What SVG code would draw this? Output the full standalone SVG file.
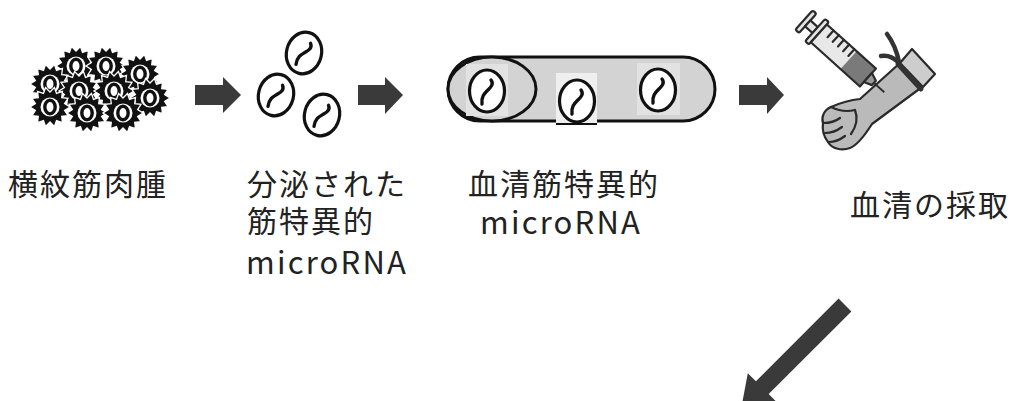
<svg xmlns="http://www.w3.org/2000/svg" xmlns:xlink="http://www.w3.org/1999/xlink" width="1011" height="401" viewBox="0 0 1011 401">
  <style>
    .lbl { font-family: "Noto Sans CJK JP", "Noto Sans", sans-serif; font-size: 30px; fill: #222; letter-spacing: 2px; }
    .lat { font-size: 31px; letter-spacing: 2.2px; }
    .ves { fill: #fff; stroke: #111; stroke-width: 3.2; }
    .rna { fill: none; stroke: #111; stroke-width: 3.4; stroke-linecap: round; }
    .arrow { fill: #3a3a3a; }
    .ln { stroke: #2a2a2a; stroke-width: 2.2; stroke-linejoin: round; stroke-linecap: round; }
  </style>
  <defs>
    <!-- spiky tumour cell: toothed star, white body, dark nucleus ring -->
    <g id="cell">
      <polygon fill="#111" stroke="#fff" stroke-width="1.3" points="20,0 14.62,3.34 18.02,8.68 11.73,9.35 12.47,15.64 6.51,13.52 4.45,19.5 0,15 -4.45,19.5 -6.51,13.52 -12.47,15.64 -11.73,9.35 -18.02,8.68 -14.62,3.34 -20,0 -14.62,-3.34 -18.02,-8.68 -11.73,-9.35 -12.47,-15.64 -6.51,-13.52 -4.45,-19.5 0,-15 4.45,-19.5 6.51,-13.52 12.47,-15.64 11.73,-9.35 18.02,-8.68 14.62,-3.34"/>
      <circle r="9.5" fill="#fff"/>
      <ellipse rx="5.2" ry="6.8" fill="none" stroke="#111" stroke-width="3.4"/>
    </g>
    <!-- exosome vesicle carrying a microRNA strand -->
    <g id="vesicle">
      <ellipse class="ves" rx="17.5" ry="21"/>
      <path class="rna" d="M -5 13 C -6 5 -2 2 1 -1 S 7 -7 4 -11"/>
    </g>
  </defs>

  <!-- rhabdomyosarcoma cell cluster -->
  <g id="tumor">
    <use xlink:href="#cell" x="76" y="66"/>
    <use xlink:href="#cell" x="106" y="66"/>
    <use xlink:href="#cell" x="140" y="74"/>
    <use xlink:href="#cell" x="50" y="84"/>
    <use xlink:href="#cell" x="79" y="91"/>
    <use xlink:href="#cell" x="114" y="91"/>
    <use xlink:href="#cell" x="150" y="98"/>
    <use xlink:href="#cell" x="50" y="107"/>
    <use xlink:href="#cell" x="87" y="113"/>
    <use xlink:href="#cell" x="123" y="113"/>
    <text class="lbl" x="8" y="195">横紋筋肉腫</text>
  </g>

  <!-- secreted muscle-specific microRNA -->
  <g id="secreted">
    <use xlink:href="#vesicle" transform="translate(304,53) rotate(14)"/>
    <use xlink:href="#vesicle" transform="translate(276,95) rotate(14)"/>
    <use xlink:href="#vesicle" transform="translate(322,115) rotate(14)"/>
    <text class="lbl"><tspan x="247" y="195">分泌された</tspan><tspan x="247" y="232">筋特異的</tspan><tspan class="lat" x="246" y="274">microRNA</tspan></text>
  </g>

  <!-- blood vessel carrying serum microRNA -->
  <g id="serum">
    <rect x="448" y="57" width="267" height="64" rx="32" fill="#d3d3d3" stroke="#111" stroke-width="3"/>
    <ellipse cx="492" cy="89" rx="44" ry="32" fill="#d3d3d3" stroke="#111" stroke-width="3"/>
    <rect x="466" y="64" width="42" height="52" fill="#e2e2e2"/>
    <rect x="637" y="63" width="43" height="52" fill="#e2e2e2"/>
    <rect x="556" y="73" width="41" height="52" fill="#efefef"/>
    <line x1="556" y1="124" x2="597" y2="124" stroke="#111" stroke-width="2"/>
    <use xlink:href="#vesicle" transform="translate(487,91)"/>
    <use xlink:href="#vesicle" transform="translate(577,101)"/>
    <use xlink:href="#vesicle" transform="translate(658,90)"/>
    <text class="lbl"><tspan x="468" y="195">血清筋特異的</tspan><tspan class="lat" x="480" y="234">microRNA</tspan></text>
  </g>

  <!-- blood draw: arm with tourniquet and syringe -->
  <g id="blood-draw">
    <!-- arm -->
    <path class="ln" fill="#bababa" d="M 900 63 L 860 99 C 850 100 840 103 831 107 C 824 110 821 117 823 123 C 822 130 824 137 828 142 C 832 149 842 151 850 148 C 858 145 865 135 872 124 L 922 87 Z"/>
    <!-- fist details -->
    <path class="ln" fill="none" d="M 831 107 C 839 111 847 112 855 110"/>
    <path class="ln" fill="none" d="M 823 123 C 830 123 836 121 840 118"/>
    <path class="ln" fill="none" d="M 825 133 C 832 133 838 130 842 127"/>
    <path class="ln" fill="none" d="M 829 142 C 836 142 841 139 845 136"/>
    <path class="ln" fill="none" d="M 855 110 C 858 118 856 127 851 134"/>
    <!-- sleeve cuff -->
    <polygon class="ln" fill="#cdcdcd" points="912,49 935,74 923,87 900,63"/>
    <!-- tourniquet -->
    <path fill="none" stroke="#333" stroke-width="5" stroke-linecap="round" d="M 898 64 L 921 89"/>
    <path fill="none" stroke="#333" stroke-width="4.5" stroke-linecap="round" d="M 899 62 C 897 52 893 42 887 34"/>
    <path fill="none" stroke="#333" stroke-width="4.5" stroke-linecap="round" d="M 898 62 C 893 57 887 55 881 56"/>
    <!-- syringe -->
    <g transform="translate(804,20) rotate(42)">
      <rect class="ln" x="0" y="-13" width="5" height="26" rx="2" fill="#e4e4e4"/>
      <rect class="ln" x="5" y="-4" width="10" height="8" fill="#e4e4e4"/>
      <rect class="ln" x="15" y="-15" width="5" height="30" rx="2" fill="#e4e4e4"/>
      <rect x="20" y="-12" width="66" height="24" fill="#e8e8e8"/>
      <rect x="60" y="-12" width="26" height="24" fill="#7a7a7a"/>
      <rect class="ln" x="20" y="-12" width="66" height="24" fill="none"/>
      <g class="ln">
        <line x1="29" y1="-12" x2="29" y2="-3"/>
        <line x1="36" y1="-12" x2="36" y2="-3"/>
        <line x1="43" y1="-12" x2="43" y2="-3"/>
        <line x1="50" y1="-12" x2="50" y2="-3"/>
        <line x1="57" y1="-12" x2="57" y2="-3"/>
      </g>
      <path class="ln" fill="#9a9a9a" d="M 86 -6 L 94 -3 L 94 3 L 86 6 Z"/>
      <line x1="94" y1="0" x2="108" y2="0" stroke="#2a2a2a" stroke-width="1.8"/>
    </g>
    <text class="lbl" x="850" y="216">血清の採取</text>
  </g>

  <!-- flow arrows -->
  <g id="connectors">
    <polygon class="arrow" points="195,85 223,85 223,77 241,95 223,113 223,105 195,105"/>
    <polygon class="arrow" points="358,85 385,85 385,77 403,95 385,114 385,105 358,105"/>
    <polygon class="arrow" points="739,85 767,85 767,77 784,95 767,114 767,105 739,105"/>
    <polygon class="arrow" points="838.6,298.6 851.4,311.4 768.7,394.1 776.8,402.2 741.1,408.9 747.8,373.2 755.9,381.3"/>
  </g>
</svg>
